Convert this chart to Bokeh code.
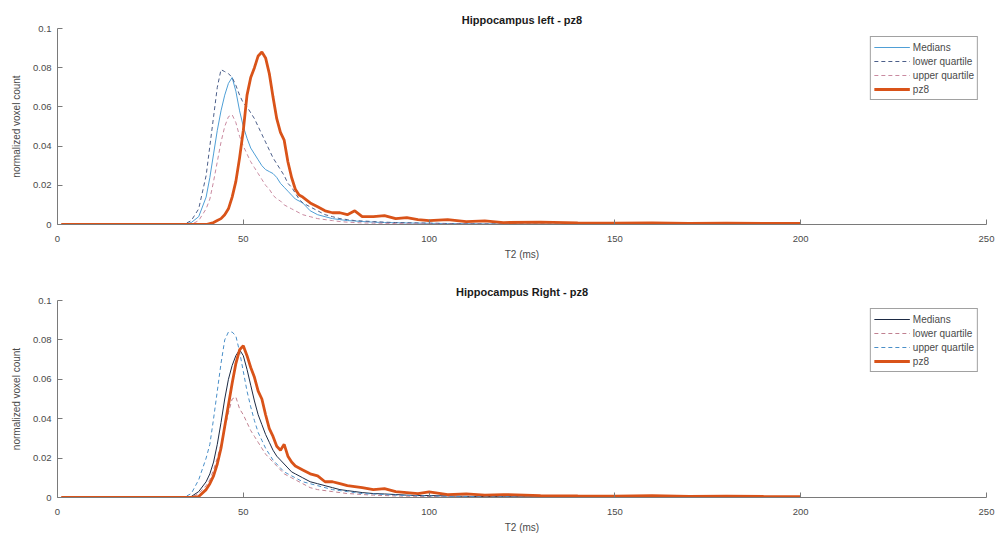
from bokeh.plotting import figure
from bokeh.layouts import column
from bokeh.models import Range1d, FixedTicker, CustomJSTickFormatter, Legend, LegendItem
from bokeh.embed import file_html
from bokeh.resources import INLINE

# T2 bins (ms)
t2 = [1, 34, 36, 38, 40, 41, 42, 43, 44, 45, 46, 47, 48, 49, 50, 51, 52, 53, 54, 55, 56,
      57, 58, 59, 60, 61, 62, 63, 64, 65, 66, 68, 70, 72, 74, 76, 78, 80, 82, 85, 88, 91,
      94, 97, 100, 105, 110, 115, 120, 130, 140, 150, 160, 170, 180, 190, 200]

series_labels = ["Medians", "lower quartile", "upper quartile", "pz8"]
x_ticks = [0, 50, 100, 150, 200, 250]
y_ticks = [0, 0.02, 0.04, 0.06, 0.08, 0.1]

# Hippocampus left
left_medians = [0, 0, 0.001, 0.004, 0.014, 0.024, 0.036, 0.048, 0.058, 0.066, 0.072, 0.075, 0.068,
                0.058, 0.05, 0.044, 0.039, 0.036, 0.033, 0.03, 0.028, 0.027, 0.026, 0.024, 0.021,
                0.019, 0.017, 0.015, 0.013, 0.012, 0.011, 0.007, 0.005, 0.004, 0.003, 0.0025, 0.002,
                0.0018, 0.0015, 0.0012, 0.001, 0.0009, 0.0008, 0.0007, 0.0006, 0.0005, 0.0004,
                0.0003, 0.0003, 0.0002, 0.0002, 0.0001, 0.0001, 0.0001, 0.0001, 0.0001, 0.0001]
left_lower = [0, 0, 0.002, 0.008, 0.025, 0.04, 0.055, 0.07, 0.079, 0.078, 0.077, 0.075, 0.071,
              0.066, 0.062, 0.06, 0.057, 0.054, 0.05, 0.046, 0.042, 0.038, 0.034, 0.031, 0.028,
              0.025, 0.021, 0.019, 0.016, 0.013, 0.011, 0.009, 0.007, 0.005, 0.004, 0.003, 0.0025,
              0.002, 0.0018, 0.0015, 0.0012, 0.001, 0.0009, 0.0008, 0.0007, 0.0005, 0.0004, 0.0003,
              0.0003, 0.0002, 0.0001, 0.0001, 0.0001, 0.0001, 0.0001, 0.0001, 0.0001]
left_upper = [0, 0, 0, 0.002, 0.008, 0.013, 0.022, 0.032, 0.042, 0.05, 0.055, 0.056, 0.052, 0.045,
              0.04, 0.036, 0.032, 0.029, 0.026, 0.023, 0.02, 0.018, 0.015, 0.013, 0.012, 0.01,
              0.009, 0.008, 0.007, 0.006, 0.005, 0.004, 0.003, 0.0025, 0.002, 0.0015, 0.0012, 0.001,
              0.0008, 0.0007, 0.0006, 0.0005, 0.0004, 0.0003, 0.0003, 0.0002, 0.0002, 0.0001,
              0.0001, 0.0001, 0.0001, 0, 0, 0, 0, 0, 0]
left_pz8 = [0, 0, 0, 0, 0, 0.0005, 0.001, 0.002, 0.003, 0.005, 0.008, 0.014, 0.022, 0.034, 0.048,
            0.066, 0.075, 0.08, 0.086, 0.088, 0.085, 0.077, 0.065, 0.054, 0.047, 0.043, 0.032,
            0.024, 0.018, 0.015, 0.014, 0.011, 0.009, 0.007, 0.006, 0.006, 0.005, 0.007, 0.004,
            0.004, 0.0045, 0.003, 0.0035, 0.0025, 0.002, 0.0025, 0.0015, 0.0018, 0.001, 0.0012,
            0.0008, 0.0007, 0.0008, 0.0006, 0.0007, 0.0005, 0.0005]

# Hippocampus right
right_medians = [0, 0, 0.0005, 0.003, 0.008, 0.012, 0.018, 0.027, 0.038, 0.05, 0.06, 0.067, 0.072,
                 0.075, 0.072, 0.065, 0.057, 0.049, 0.042, 0.037, 0.032, 0.028, 0.024, 0.021, 0.019,
                 0.017, 0.015, 0.013, 0.012, 0.011, 0.01, 0.008, 0.007, 0.006, 0.005, 0.004, 0.0035,
                 0.003, 0.0025, 0.002, 0.0018, 0.0015, 0.0012, 0.001, 0.001, 0.0008, 0.0006, 0.0005,
                 0.0004, 0.0003, 0.0002, 0.0002, 0.0001, 0.0001, 0.0001, 0.0001, 0.0001]
right_lower = [0, 0, 0, 0.002, 0.006, 0.009, 0.014, 0.02, 0.027, 0.035, 0.043, 0.05, 0.051, 0.045,
               0.042, 0.038, 0.034, 0.031, 0.028, 0.025, 0.022, 0.02, 0.018, 0.016, 0.014, 0.012,
               0.011, 0.01, 0.009, 0.008, 0.007, 0.005, 0.004, 0.0035, 0.003, 0.0025, 0.002, 0.0018,
               0.0015, 0.0012, 0.001, 0.0008, 0.0007, 0.0006, 0.0005, 0.0004, 0.0003, 0.0002,
               0.0002, 0.0001, 0.0001, 0.0001, 0.0001, 0.0001, 0.0001, 0.0001, 0.0001]
right_upper = [0, 0, 0.002, 0.009, 0.02, 0.027, 0.04, 0.054, 0.068, 0.08, 0.084, 0.084, 0.082,
               0.074, 0.064, 0.054, 0.046, 0.039, 0.033, 0.029, 0.025, 0.022, 0.019, 0.017, 0.015,
               0.013, 0.012, 0.011, 0.01, 0.009, 0.008, 0.007, 0.006, 0.005, 0.004, 0.0035, 0.003,
               0.0025, 0.002, 0.0018, 0.0015, 0.0012, 0.001, 0.0009, 0.0008, 0.0006, 0.0005,
               0.0004, 0.0003, 0.0002, 0.0002, 0.0001, 0.0001, 0.0001, 0.0001, 0.0001, 0.0001]
right_pz8 = [0, 0, 0, 0.0005, 0.004, 0.007, 0.011, 0.017, 0.025, 0.036, 0.047, 0.058, 0.068, 0.075,
             0.077, 0.072, 0.066, 0.061, 0.054, 0.05, 0.042, 0.035, 0.031, 0.026, 0.024, 0.027,
             0.021, 0.018, 0.016, 0.015, 0.014, 0.012, 0.011, 0.008, 0.008, 0.007, 0.006, 0.0055,
             0.005, 0.004, 0.0045, 0.003, 0.0025, 0.002, 0.0028, 0.0015, 0.0018, 0.0012, 0.0015,
             0.001, 0.0008, 0.0007, 0.0009, 0.0006, 0.0007, 0.0005, 0.0004]

FONT = "Liberation Sans"
AXIS_COLOR = "#7a7a7a"
TEXT_COLOR = "#4a4a4a"


def panel(title, data, colors, dashes, widths, height, top, bottom):
    p = figure(width=1000, height=height, output_backend="svg", toolbar_location=None,
               x_range=Range1d(0, 250), y_range=Range1d(0, 0.1),
               min_border_left=57, min_border_right=14,
               min_border_top=top, min_border_bottom=bottom)
    p.title.text = title
    p.title.align = "center"
    p.title.text_font = FONT
    p.title.text_font_size = "11px"
    p.title.text_font_style = "bold"
    p.title.text_color = "#1a1a1a"
    p.title.standoff = 6
    p.outline_line_color = None
    p.xgrid.visible = False
    p.ygrid.visible = False

    items = []
    for label, ys, c, d, w in zip(series_labels, data, colors, dashes, widths):
        r = p.line(t2, ys, line_color=c, line_width=w, line_dash=d)
        items.append(LegendItem(label=label, renderers=[r]))

    for ax in (p.xaxis[0], p.yaxis[0]):
        ax.axis_line_color = AXIS_COLOR
        ax.major_tick_line_color = AXIS_COLOR
        ax.major_tick_in = 5
        ax.major_tick_out = 0
        ax.minor_tick_line_color = None
        ax.major_label_text_font = FONT
        ax.major_label_text_font_size = "9.5px"
        ax.major_label_text_color = TEXT_COLOR
        ax.axis_label_text_font = FONT
        ax.axis_label_text_font_size = "10px"
        ax.axis_label_text_font_style = "normal"
        ax.axis_label_text_color = TEXT_COLOR

    p.xaxis[0].ticker = FixedTicker(ticks=x_ticks)
    p.xaxis[0].axis_label = "T2 (ms)"
    p.xaxis[0].major_label_standoff = 11
    p.xaxis[0].axis_label_standoff = 4
    p.yaxis[0].ticker = FixedTicker(ticks=y_ticks)
    p.yaxis[0].formatter = CustomJSTickFormatter(code="return String(Math.round(tick*1000)/1000);")
    p.yaxis[0].axis_label = "normalized voxel count"
    p.yaxis[0].major_label_standoff = 6
    p.yaxis[0].axis_label_standoff = 8

    legend = Legend(items=items, location="top_right")
    legend.margin = 8
    legend.padding = 3
    legend.spacing = 0
    legend.label_height = 14
    legend.glyph_height = 14
    legend.glyph_width = 36
    legend.label_standoff = 3
    legend.label_text_font = FONT
    legend.label_text_font_size = "10px"
    legend.label_text_color = TEXT_COLOR
    legend.border_line_color = "#444444"
    legend.border_line_width = 1
    legend.background_fill_alpha = 1
    p.add_layout(legend, "center")
    return p


p1 = panel("Hippocampus left - pz8",
           [left_medians, left_lower, left_upper, left_pz8],
           ["#4f9fd6", "#4c5f8a", "#c98aa0", "#D95319"],
           ["solid", "4 3", "4 3", "solid"],
           [1, 1, 1, 2.8], 270, 28, 46)
p2 = panel("Hippocampus Right - pz8",
           [right_medians, right_lower, right_upper, right_pz8],
           ["#1c2a44", "#c08090", "#4a8fc8", "#D95319"],
           ["solid", "4 3", "4 3", "solid"],
           [1, 1, 1, 2.8], 269, 30, 42)

layout = column(p1, p2, spacing=0)
open("out.html", "w").write(file_html(layout, INLINE))
